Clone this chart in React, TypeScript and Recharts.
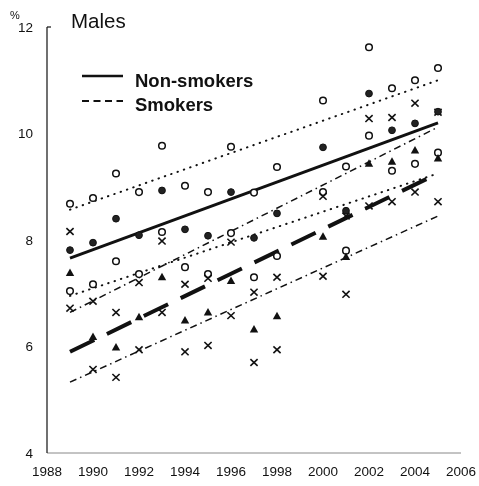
import React from "react";
import { ComposedChart, Line, Scatter, XAxis, YAxis } from "recharts";

const years = [1989, 1990, 1991, 1992, 1993, 1994, 1995, 1996, 1997, 1998, 2000, 2001, 2002, 2003, 2004, 2005];
const nonSmokersObs = [7.81, 7.95, 8.4, 8.09, 8.93, 8.2, 8.08, 8.9, 8.04, 8.5, 9.74, 8.55, 10.75, 10.06, 10.19, 10.41];
const nonSmokersUpper = [8.68, 8.79, 9.25, 8.9, 9.77, 9.02, 8.9, 9.75, 8.89, 9.37, 10.62, 9.38, 11.62, 10.85, 11.0, 11.23];
const nonSmokersLower = [7.04, 7.17, 7.6, 7.36, 8.15, 7.49, 7.36, 8.13, 7.3, 7.7, 8.9, 7.8, 9.96, 9.3, 9.43, 9.64];
const smokersObs = [7.38, 6.18, 5.98, 6.55, 7.3, 6.49, 6.64, 7.23, 6.32, 6.57, 8.06, 7.68, 9.43, 9.47, 9.68, 9.53];
const smokersUpper = [8.16, 6.85, 6.64, 7.2, 7.98, 7.17, 7.28, 7.96, 7.02, 7.3, 8.82, 8.45, 10.28, 10.3, 10.57, 10.4];
const smokersLower = [6.72, 5.57, 5.42, 5.94, 6.64, 5.9, 6.02, 6.58, 5.7, 5.94, 7.32, 6.98, 8.64, 8.72, 8.9, 8.72];

const lineYears = [1989, 2005];
const nsFit = [7.66, 10.2];
const nsFitUp = [8.57, 11.0];
const nsFitLo = [6.95, 9.25];
const smFit = [5.9, 9.25];
const smFitUp = [6.64, 10.12];
const smFitLo = [5.33, 8.45];

const xTicks = [1988, 1990, 1992, 1994, 1996, 1998, 2000, 2002, 2004, 2006];
const yTicks = [4, 6, 8, 10, 12];

const lineAt = (arr: number[], y: number) => {
  const i = lineYears.indexOf(y);
  return i >= 0 ? arr[i] : null;
};

const data = years.map((y, i) => ({
  year: y,
  nsObs: nonSmokersObs[i],
  nsUp: nonSmokersUpper[i],
  nsLo: nonSmokersLower[i],
  smObs: smokersObs[i],
  smUp: smokersUpper[i],
  smLo: smokersLower[i],
  nsFit: lineAt(nsFit, y),
  nsFitUp: lineAt(nsFitUp, y),
  nsFitLo: lineAt(nsFitLo, y),
  smFit: lineAt(smFit, y),
  smFitUp: lineAt(smFitUp, y),
  smFitLo: lineAt(smFitLo, y),
}));

const INK = "#111";
const FONT = "'Liberation Sans', Arial, sans-serif";

const FilledCircle = (p: any) =>
  p.cx == null || p.cy == null ? null : <circle cx={p.cx} cy={p.cy} r={3.4} fill="#222" stroke={INK} strokeWidth={1} />;
const OpenCircle = (p: any) =>
  p.cx == null || p.cy == null ? null : <circle cx={p.cx} cy={p.cy} r={3.3} fill="#fff" stroke={INK} strokeWidth={1.5} />;
const Triangle = (p: any) =>
  p.cx == null || p.cy == null ? null : (
    <polygon points={`${p.cx},${p.cy - 4.5} ${p.cx - 4.2},${p.cy + 3} ${p.cx + 4.2},${p.cy + 3}`} fill={INK} />
  );
const Cross = (p: any) =>
  p.cx == null || p.cy == null ? null : (
    <g stroke={INK} strokeWidth={1.6}>
      <line x1={p.cx - 3.6} y1={p.cy - 3.4} x2={p.cx + 3.6} y2={p.cy + 3.4} />
      <line x1={p.cx - 3.6} y1={p.cy + 3.4} x2={p.cx + 3.6} y2={p.cy - 3.4} />
    </g>
  );

const W = 471;
const H = 478;

export default function App() {
  return (
    <div style={{ position: "fixed", left: 8, top: 8, width: W, height: H }}>
      <ComposedChart width={W} height={H} data={data} margin={{ top: 19, right: 18, bottom: 3, left: 0 }}>
        <XAxis
          dataKey="year"
          type="number"
          domain={[1988, 2006]}
          ticks={xTicks}
          interval={0}
          height={30}
          tickLine={false}
          tickSize={6}
          tickMargin={7}
          axisLine={{ stroke: "#888", strokeWidth: 1 }}
          tick={{ fill: INK, fontSize: 13.5, fontFamily: FONT }}
        />
        <YAxis
          type="number"
          domain={[4, 12]}
          ticks={yTicks}
          interval={0}
          width={39}
          tickLine={false}
          tickSize={6}
          tickMargin={8}
          axisLine={{ stroke: INK, strokeWidth: 1.2 }}
          tick={{ fill: INK, fontSize: 13.5, fontFamily: FONT }}
        />
        <Line dataKey="nsFitUp" connectNulls stroke={INK} strokeWidth={2} strokeDasharray="0.5 6.2" strokeLinecap="round" dot={false} activeDot={false} isAnimationActive={false} />
        <Line dataKey="nsFitLo" connectNulls stroke={INK} strokeWidth={2} strokeDasharray="0.5 6.2" strokeLinecap="round" dot={false} activeDot={false} isAnimationActive={false} />
        <Line dataKey="smFitUp" connectNulls stroke={INK} strokeWidth={1.5} strokeDasharray="7 4 1.5 4" dot={false} activeDot={false} isAnimationActive={false} />
        <Line dataKey="smFitLo" connectNulls stroke={INK} strokeWidth={1.5} strokeDasharray="7 4 1.5 4" dot={false} activeDot={false} isAnimationActive={false} />
        <Line dataKey="nsFit" connectNulls stroke={INK} strokeWidth={3} dot={false} activeDot={false} isAnimationActive={false} />
        <Line dataKey="smFit" connectNulls stroke={INK} strokeWidth={4} strokeDasharray="27 14" dot={false} activeDot={false} isAnimationActive={false} />
        <Scatter dataKey="nsUp" shape={OpenCircle} isAnimationActive={false} />
        <Scatter dataKey="nsLo" shape={OpenCircle} isAnimationActive={false} />
        <Scatter dataKey="smUp" shape={Cross} isAnimationActive={false} />
        <Scatter dataKey="smLo" shape={Cross} isAnimationActive={false} />
        <Scatter dataKey="nsObs" shape={FilledCircle} isAnimationActive={false} />
        <Scatter dataKey="smObs" shape={Triangle} isAnimationActive={false} />
      </ComposedChart>
      <svg width={W} height={H} style={{ position: "absolute", left: 0, top: 0, pointerEvents: "none" }}>
        <text x={2} y={11} fontSize={11} fontFamily={FONT} fill={INK}>%</text>
        <line x1={39} y1={19} x2={43} y2={19} stroke={INK} strokeWidth={1.2} />
        <text x={63} y={20} fontSize={20.5} fontFamily={FONT} fill={INK}>Males</text>
        <line x1={74} y1={68} x2={115} y2={68} stroke={INK} strokeWidth={2.5} />
        <text x={127} y={79} fontSize={18.5} fontWeight="bold" fontFamily={FONT} fill={INK}>Non-smokers</text>
        <line x1={74} y1={93} x2={115} y2={93} stroke={INK} strokeWidth={2} strokeDasharray="7 4.5" />
        <text x={127} y={103} fontSize={18.5} fontWeight="bold" fontFamily={FONT} fill={INK}>Smokers</text>
      </svg>
    </div>
  );
}
